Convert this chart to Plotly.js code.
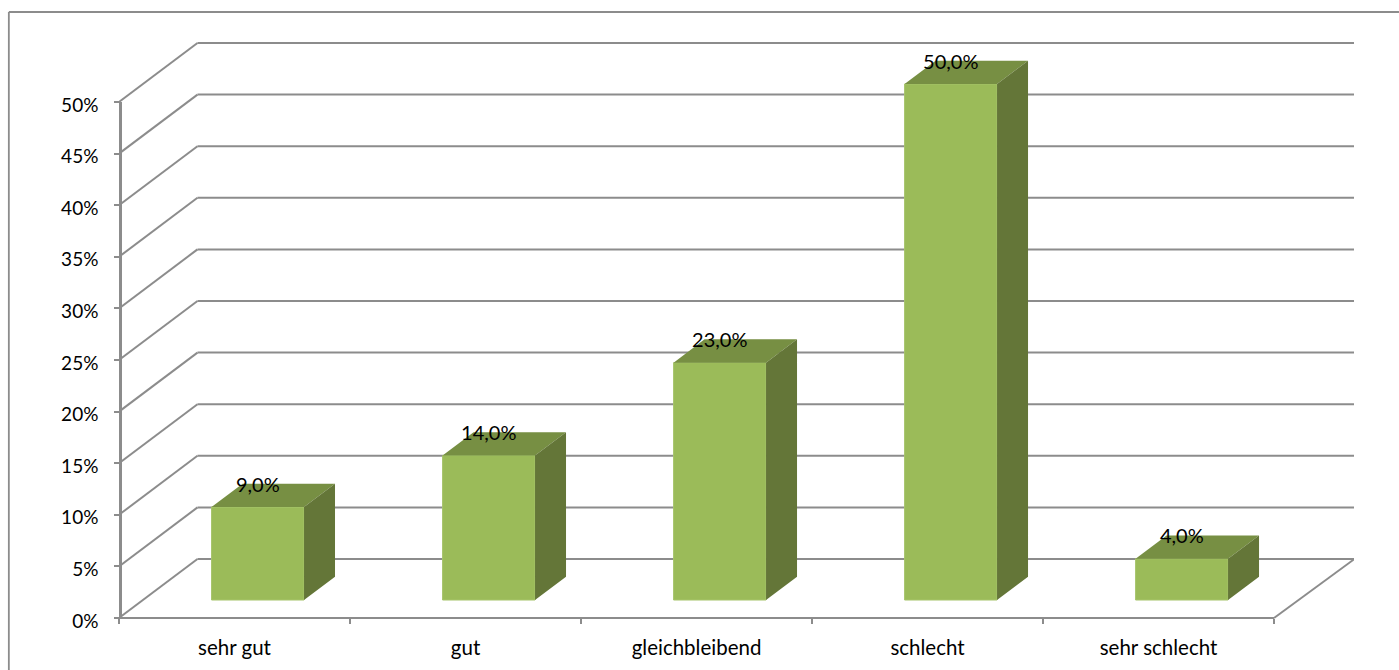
<!DOCTYPE html>
<html><head><meta charset="utf-8">
<script src="https://cdn.plot.ly/plotly-3.0.1.min.js"></script>
<style>html,body{margin:0;padding:0;background:#fff;overflow:hidden}#c{width:1399px;height:670px}</style>
</head><body><div id="c"></div>
<script>
const categories = ["sehr gut","gut","gleichbleibend","schlecht","sehr schlecht"];
const values = [9,14,23,50,4];
const valueLabels = ["9,0%","14,0%","23,0%","50,0%","4,0%"];
const yTicks = [0,5,10,15,20,25,30,35,40,45,50];
const yTickLabels = ["0%","5%","10%","15%","20%","25%","30%","35%","40%","45%","50%"];

// pixel frame
const W=1399,H=670,mL=118.5,mR=45,mT=30,mB=51;
const pxX=231.1, pxY=10.32;
const x0=-0.5, xN=categories.length-0.5;
const wallDx=78.5/pxX, wallEndDx=80.5/pxX, wallDy=59/pxY;
const barOff=23.3/pxX, barW=92.5/pxX, barBase=18/pxY, barDx=31/pxX, barDy=23.3/pxY, labelUp=20.5/pxY;
const yLow=-1/pxY, yTop=yTicks[yTicks.length-1];
const plotW=W-mL-mR, plotH=H-mT-mB;
const GRID='#8c8c8c';
const AXW=2.4;
const FONT='Lato, Carlito, sans-serif';

const shapes=[];
const line=(a,b,c,d)=>shapes.push({type:'line',layer:'below',xref:'x',yref:'y',x0:a,y0:b,x1:c,y1:d,line:{color:GRID,width:2}});
yTicks.forEach(v=>{
  line(x0,v,x0+wallDx,v+wallDy);
  line(x0+wallDx,v+wallDy,xN+wallEndDx,v+wallDy);
});
line(xN,0,xN+wallEndDx,wallDy);
// outer chart frame (paper coordinates)
const px=p=>(p-mL)/plotW, py=p=>1-(p-mT)/plotH;
[[8.3,H,8.3,12],[8.3,12,W,12]].forEach(s=>shapes.push({type:'line',layer:'below',xref:'paper',yref:'paper',
  x0:px(s[0]),y0:py(s[1]),x1:px(s[2]),y1:py(s[3]),line:{color:GRID,width:1.8}}));

const barX=categories.map((_,i)=>i+barOff);
const topX=[],topY=[],sideX=[],sideY=[];
values.forEach((v,i)=>{
  const a=barX[i]-barW/2,b=barX[i]+barW/2,h=barBase+v;
  topX.push(a,b,b+barDx,a+barDx,a,null);
  topY.push(h,h,h+barDy,h+barDy,h,null);
  sideX.push(b,b+barDx,b+barDx,b,b,null);
  sideY.push(barBase,barBase+barDy,h+barDy,h,barBase,null);
});

const traces=[
 {type:'bar',x:barX,y:values,base:values.map(()=>barBase),width:barW,
  marker:{color:'#9BBB59',line:{color:'#A6C46B',width:1}},hoverinfo:'skip'},
 {type:'scatter',mode:'lines',x:topX,y:topY,fill:'toself',fillcolor:'#778F43',line:{width:0,color:'#778F43'},hoverinfo:'skip'},
 {type:'scatter',mode:'lines',x:sideX,y:sideY,fill:'toself',fillcolor:'#647638',line:{width:0,color:'#647638'},hoverinfo:'skip'},
 {type:'scatter',mode:'text',x:barX,y:values.map(v=>barBase+v+labelUp),text:valueLabels,textposition:'middle center',
  cliponaxis:false,textfont:{family:FONT,size:20,color:'#000'},hoverinfo:'skip'},
 // carries the visible front axes, which stop at the front edge of the chart
 {type:'scatter',mode:'none',xaxis:'x2',yaxis:'y2',x:categories.map((_,i)=>i),y:values,hoverinfo:'skip'}
];

const layout={
 width:W,height:H,showlegend:false,hovermode:false,barmode:'overlay',
 paper_bgcolor:'#fff',plot_bgcolor:'rgba(0,0,0,0)',
 margin:{l:mL,r:mR,t:mT,b:mB,pad:0},
 shapes:shapes,
 xaxis:{type:'linear',range:[x0,x0+plotW/pxX],visible:false},
 yaxis:{type:'linear',range:[yLow,yLow+plotH/pxY],visible:false},
 xaxis2:{type:'linear',range:[x0,xN],domain:[0,(xN-x0)*pxX/plotW],anchor:'free',position:py(619-AXW/2),
  showgrid:false,zeroline:false,showline:true,linecolor:GRID,linewidth:AXW,
  tickmode:'array',tickvals:categories.map((_,i)=>i),ticktext:categories,ticks:'outside',ticklen:0,tickcolor:'rgba(0,0,0,0)',
  ticklabelstandoff:11,tickfont:{family:FONT,size:20.5,color:'#000'},
  minor:{ticks:'outside',tickmode:'array',tickvals:categories.map((_,i)=>i-0.5).concat([xN]),ticklen:5,tickwidth:2,tickcolor:GRID,showgrid:false}},
 yaxis2:{type:'linear',range:[yLow,yTop],domain:[0,(yTop-yLow)*pxY/plotH],anchor:'free',position:px(mL+AXW/2),
  showgrid:false,zeroline:false,showline:true,linecolor:GRID,linewidth:AXW,
  tickmode:'array',tickvals:yTicks,ticktext:yTickLabels,ticks:'outside',ticklen:5,tickwidth:2,tickcolor:GRID,
  ticklabelstandoff:12,ticklabelshift:3,tickfont:{family:FONT,size:19,color:'#000'}}
};
Plotly.newPlot('c',traces,layout,{displayModeBar:false,staticPlot:true});
</script></body></html>
